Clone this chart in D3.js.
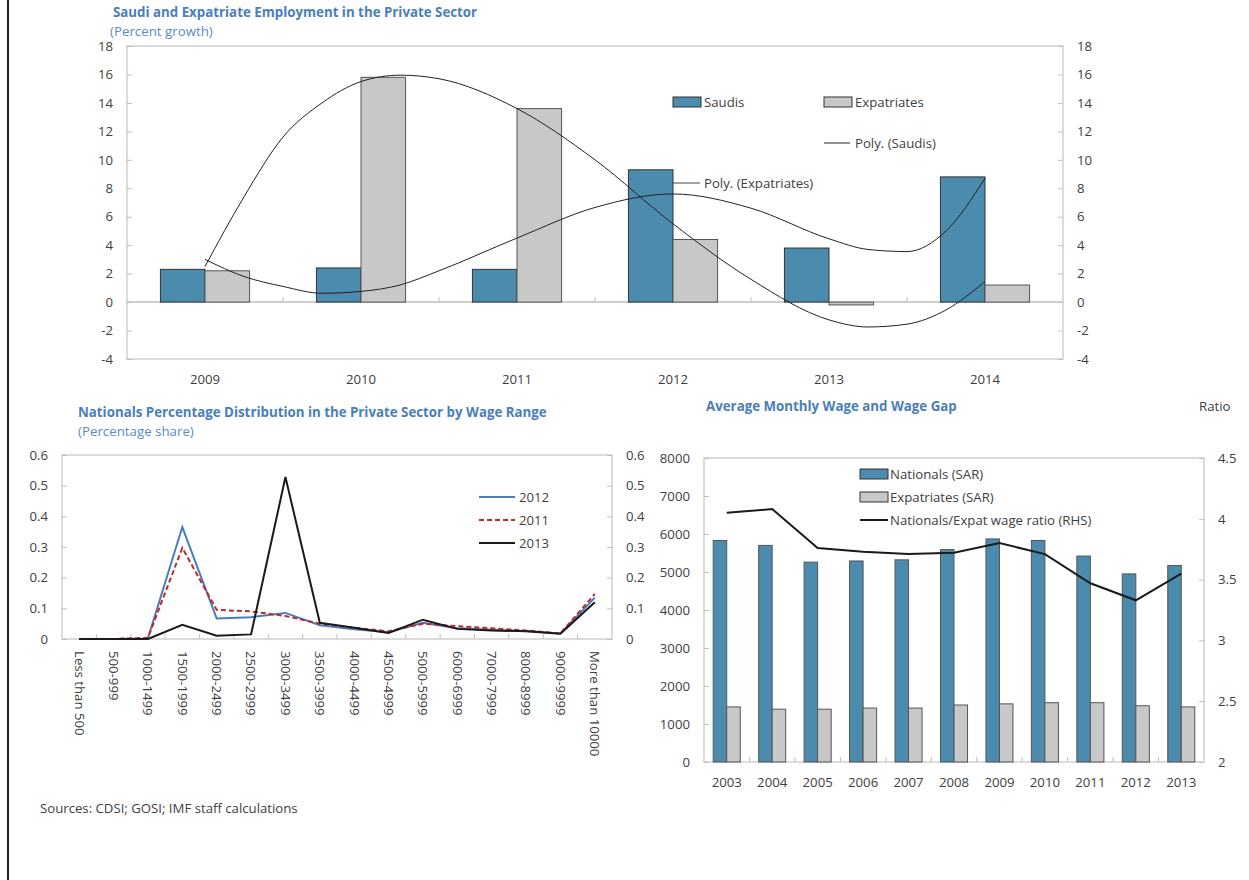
<!DOCTYPE html>
<html>
<head>
<meta charset="utf-8">
<script src="https://d3js.org/d3.v7.min.js"></script>
<title>Saudi private sector: employment and wages</title>
<style>
  body { margin: 0; background: #fff; }
  svg text { font-family: "Open Sans", "Noto Sans", sans-serif; font-size: 13.2px; fill: #404040; }
  svg .title { font-size: 13.3px; font-weight: bold; fill: #4a7ebb; }
  svg .sub { font-size: 13.3px; fill: #5b8bc5; }
  .tick line { stroke: #bfbfbf; }
</style>
</head>
<body>
<svg id="chart" width="1249" height="880"></svg>
<script>
// top panel: employment growth, percent
var years = ['2009', '2010', '2011', '2012', '2013', '2014'];
var saudis = [2.3, 2.4, 2.3, 9.3, 3.8, 8.8];
var expats = [2.2, 15.8, 13.6, 4.4, -0.2, 1.2];
var growthTicks = [-4, -2, 0, 2, 4, 6, 8, 10, 12, 14, 16, 18];
// polynomial trend lines (position in category units, 1 = 2009)
var trendPos = [1, 1.25, 1.5, 1.75, 2, 2.25, 2.5, 3, 3.5, 4, 4.5, 5, 5.25, 5.5, 5.75, 6];
var saudiTrend = [3.0, 1.8, 1.1, 0.62, 0.75, 1.2, 2.2, 4.5, 6.65, 7.6, 6.6, 4.45, 3.7, 3.55, 5.0, 8.7];
var expatTrend = [2.5, 7.4, 11.6, 14.0, 15.5, 15.95, 15.7, 13.6, 10.0, 5.5, 1.6, -1.25, -1.75, -1.55, -0.55, 1.45];

// bottom left: nationals by wage range, share
var wageRanges = ['Less than 500', '500-999', '1000-1499', '1500-1999', '2000-2499', '2500-2999',
  '3000-3499', '3500-3999', '4000-4499', '4500-4999', '5000-5999', '6000-6999', '7000-7999',
  '8000-8999', '9000-9999', 'More than 10000'];
var share2012 = [0, 0, 0.002, 0.365, 0.067, 0.071, 0.085, 0.045, 0.032, 0.022, 0.053, 0.035, 0.03, 0.026, 0.018, 0.135];
var share2011 = [0, 0, 0.004, 0.297, 0.095, 0.09, 0.075, 0.05, 0.037, 0.025, 0.05, 0.042, 0.035, 0.028, 0.018, 0.147];
var share2013 = [0, 0, 0, 0.046, 0.011, 0.015, 0.528, 0.053, 0.037, 0.02, 0.063, 0.033, 0.028, 0.025, 0.017, 0.12];
var shareTicks = [0, 0.1, 0.2, 0.3, 0.4, 0.5, 0.6];

// bottom right: monthly wage (SAR) and ratio
var wageYears = ['2003', '2004', '2005', '2006', '2007', '2008', '2009', '2010', '2011', '2012', '2013'];
var nationalsWage = [5830, 5700, 5260, 5290, 5320, 5590, 5870, 5830, 5420, 4950, 5170];
var expatsWage = [1450, 1390, 1390, 1420, 1420, 1500, 1530, 1560, 1560, 1480, 1450];
var wageRatio = [4.05, 4.08, 3.76, 3.73, 3.71, 3.72, 3.80, 3.71, 3.47, 3.33, 3.55];
var wageTicks = [0, 1000, 2000, 3000, 4000, 5000, 6000, 7000, 8000];
var ratioTicks = [2, 2.5, 3, 3.5, 4, 4.5];

var blue = '#4b8bad', grey = '#c8c8c8';
var plain = function (d) { return String(d); };   // keep the hyphen minus of the original
var svg = d3.select('#chart');
svg.append('rect').attr('width', 1249).attr('height', 880).attr('fill', '#fff');
svg.append('line').attr('x1', 8).attr('x2', 8).attr('y1', 0).attr('y2', 880)
  .attr('stroke', '#222').attr('stroke-width', 2);

function frame(x0, y0, x1, y1) {
  svg.append('rect').attr('x', x0).attr('y', y0).attr('width', x1 - x0).attr('height', y1 - y0)
    .attr('fill', 'none').attr('stroke', '#d0d0d0').attr('stroke-width', 1.5);
}
function yAxes(scale, ticks, x0, x1, fmt, right) {
  var l = svg.append('g').attr('transform', 'translate(' + x0 + ',0)')
    .call(d3.axisLeft(scale).tickValues(ticks).tickSize(-5).tickPadding(14).tickFormat(fmt));
  l.select('.domain').remove();
  if (right) {
    var r = svg.append('g').attr('transform', 'translate(' + x1 + ',0)')
      .call(d3.axisRight(right.scale).tickValues(right.ticks).tickSize(-5).tickPadding(14).tickFormat(right.fmt));
    r.select('.domain').remove();
  }
}

// ---------- top panel ----------
(function () {
  var L = 127, R = 1063, T = 46, B = 359;
  var x = d3.scaleBand().domain(years).range([L, R]);
  var xs = d3.scaleBand().domain(['Saudis', 'Expatriates']).range([0, x.bandwidth()]).paddingOuter(0.75);
  var y = d3.scaleLinear().domain([-4, 18]).range([B, T]);
  var xt = d3.scaleLinear().domain([1, years.length])
    .range([x(years[0]) + x.bandwidth() / 2, x(years[years.length - 1]) + x.bandwidth() / 2]);

  svg.append('text').attr('class', 'title').attr('x', 113).attr('y', 17)
    .text('Saudi and Expatriate  Employment in the Private Sector');
  svg.append('text').attr('class', 'sub').attr('x', 110).attr('y', 36).text('(Percent growth)');

  frame(L, T, R, B);
  yAxes(y, growthTicks, L, R, plain, { scale: y, ticks: growthTicks, fmt: plain });

  svg.append('line').attr('x1', L).attr('x2', R).attr('y1', y(0)).attr('y2', y(0))
    .attr('stroke', '#bfbfbf').attr('stroke-width', 1.5);
  svg.selectAll('.cattick').data(years.slice(1)).enter().append('line')
    .attr('x1', function (d) { return x(d); }).attr('x2', function (d) { return x(d); })
    .attr('y1', y(0)).attr('y2', y(0) - 5).attr('stroke', '#bfbfbf');
  var xa = svg.append('g').attr('transform', 'translate(0,' + B + ')')
    .call(d3.axisBottom(x).tickSize(0).tickPadding(16));
  xa.select('.domain').remove();

  var series = [['Saudis', saudis, blue, '#333'], ['Expatriates', expats, grey, '#555']];
  series.forEach(function (s) {
    svg.selectAll(null).data(s[1]).enter().append('rect')
      .attr('x', function (d, i) { return x(years[i]) + xs(s[0]); })
      .attr('width', xs.bandwidth())
      .attr('y', function (d) { return y(Math.max(0, d)); })
      .attr('height', function (d) { return Math.abs(y(d) - y(0)); })
      .attr('fill', s[2]).attr('stroke', s[3]).attr('stroke-width', 1);
  });

  var line = d3.line().x(function (d) { return xt(d[0]); }).y(function (d) { return y(d[1]); })
    .curve(d3.curveMonotoneX);
  [saudiTrend, expatTrend].forEach(function (t) {
    svg.append('path').attr('d', line(d3.zip(trendPos, t)))
      .attr('fill', 'none').attr('stroke', '#222').attr('stroke-width', 1);
  });

  // legend
  svg.append('rect').attr('x', 673).attr('y', 97).attr('width', 28).attr('height', 10)
    .attr('fill', blue).attr('stroke', '#333');
  svg.append('text').attr('x', 704).attr('y', 102).attr('dy', '0.35em').text('Saudis');
  svg.append('rect').attr('x', 824).attr('y', 97).attr('width', 28).attr('height', 10)
    .attr('fill', grey).attr('stroke', '#333');
  svg.append('text').attr('x', 855).attr('y', 102).attr('dy', '0.35em').text('Expatriates');
  svg.append('line').attr('x1', 824).attr('x2', 850).attr('y1', 143).attr('y2', 143).attr('stroke', '#222');
  svg.append('text').attr('x', 855).attr('y', 143).attr('dy', '0.35em').text('Poly. (Saudis)');
  svg.append('line').attr('x1', 673).attr('x2', 700).attr('y1', 183).attr('y2', 183).attr('stroke', '#444');
  svg.append('text').attr('x', 704).attr('y', 183).attr('dy', '0.35em').text('Poly. (Expatriates)');
})();

// ---------- bottom left panel ----------
(function () {
  var L = 62, R = 612, T = 455, B = 639;
  var x = d3.scaleBand().domain(wageRanges).range([L, R]);
  var y = d3.scaleLinear().domain([0, 0.6]).range([B, T]);

  svg.append('text').attr('class', 'title').attr('x', 78).attr('y', 417)
    .text('Nationals Percentage  Distribution in the Private Sector by Wage Range');
  svg.append('text').attr('class', 'sub').attr('x', 78).attr('y', 436).text('(Percentage share)');

  frame(L, T, R, B);
  var fmt = function (d) { return d === 0 ? '0' : d3.format('.1f')(d); };
  yAxes(y, shareTicks, L, R, fmt, { scale: y, ticks: shareTicks, fmt: fmt });

  svg.selectAll('.wtick').data(wageRanges.slice(1)).enter().append('line')
    .attr('x1', function (d) { return x(d); }).attr('x2', function (d) { return x(d); })
    .attr('y1', B).attr('y2', B - 5).attr('stroke', '#bfbfbf');
  svg.append('g').selectAll('text').data(wageRanges).enter().append('text')
    .attr('transform', function (d) { return 'translate(' + (x(d) + x.bandwidth() / 2) + ',651) rotate(90)'; })
    .attr('dy', '0.35em').text(function (d) { return d; });

  var line = d3.line().x(function (d, i) { return x(wageRanges[i]) + x.bandwidth() / 2; })
    .y(function (d) { return y(d); });
  var lines = [[share2012, '#4a7ebb', null, '2012'], [share2011, '#c0282e', '5,3', '2011'],
    [share2013, '#1a1a1a', null, '2013']];
  lines.forEach(function (s, k) {
    svg.append('path').attr('d', line(s[0])).attr('fill', 'none')
      .attr('stroke', s[1]).attr('stroke-width', 2).attr('stroke-dasharray', s[2]);
    var ly = 497 + k * 23;
    svg.append('line').attr('x1', 479).attr('x2', 515).attr('y1', ly).attr('y2', ly)
      .attr('stroke', s[1]).attr('stroke-width', 2).attr('stroke-dasharray', s[2]);
    svg.append('text').attr('x', 519).attr('y', ly).attr('dy', '0.35em').text(s[3]);
  });
})();

// ---------- bottom right panel ----------
(function () {
  var L = 704, R = 1204, T = 458, B = 762;
  var x = d3.scaleBand().domain(wageYears).range([L, R]);
  var xs = d3.scaleBand().domain(['Nationals', 'Expatriates']).range([0, x.bandwidth()]).paddingOuter(0.68);
  var y = d3.scaleLinear().domain([0, 8000]).range([B, T]);
  var y2 = d3.scaleLinear().domain([2, 4.5]).range([B, T]);

  svg.append('text').attr('class', 'title').attr('x', 706).attr('y', 411)
    .text('Average Monthly Wage and Wage Gap');
  svg.append('text').attr('x', 1199).attr('y', 411).text('Ratio');

  frame(L, T, R, B);
  yAxes(y, wageTicks, L, R, plain, { scale: y2, ticks: ratioTicks, fmt: plain });

  svg.selectAll('.ytick').data(wageYears.slice(1)).enter().append('line')
    .attr('x1', function (d) { return x(d); }).attr('x2', function (d) { return x(d); })
    .attr('y1', B).attr('y2', B - 5).attr('stroke', '#bfbfbf');
  var xa = svg.append('g').attr('transform', 'translate(0,' + B + ')')
    .call(d3.axisBottom(x).tickSize(0).tickPadding(16));
  xa.select('.domain').remove();

  [['Nationals', nationalsWage, blue], ['Expatriates', expatsWage, grey]].forEach(function (s) {
    svg.selectAll(null).data(s[1]).enter().append('rect')
      .attr('x', function (d, i) { return x(wageYears[i]) + xs(s[0]); })
      .attr('width', xs.bandwidth())
      .attr('y', function (d) { return y(d); })
      .attr('height', function (d) { return B - y(d); })
      .attr('fill', s[2]).attr('stroke', '#555').attr('stroke-width', 1);
  });

  svg.append('path')
    .attr('d', d3.line().x(function (d, i) { return x(wageYears[i]) + x.bandwidth() / 2; })
      .y(function (d) { return y2(d); })(wageRatio))
    .attr('fill', 'none').attr('stroke', '#1a1a1a').attr('stroke-width', 2);

  svg.append('rect').attr('x', 860).attr('y', 469).attr('width', 28).attr('height', 10)
    .attr('fill', blue).attr('stroke', '#333');
  svg.append('text').attr('x', 890).attr('y', 474).attr('dy', '0.35em').text('Nationals (SAR)');
  svg.append('rect').attr('x', 860).attr('y', 492).attr('width', 28).attr('height', 10)
    .attr('fill', grey).attr('stroke', '#333');
  svg.append('text').attr('x', 890).attr('y', 497).attr('dy', '0.35em').text('Expatriates (SAR)');
  svg.append('line').attr('x1', 860).attr('x2', 888).attr('y1', 520).attr('y2', 520)
    .attr('stroke', '#1a1a1a').attr('stroke-width', 2);
  svg.append('text').attr('x', 890).attr('y', 520).attr('dy', '0.35em').text('Nationals/Expat wage ratio (RHS)');
})();

svg.append('text').attr('x', 40).attr('y', 813).text('Sources: CDSI; GOSI; IMF staff calculations');
</script>
</body>
</html>
